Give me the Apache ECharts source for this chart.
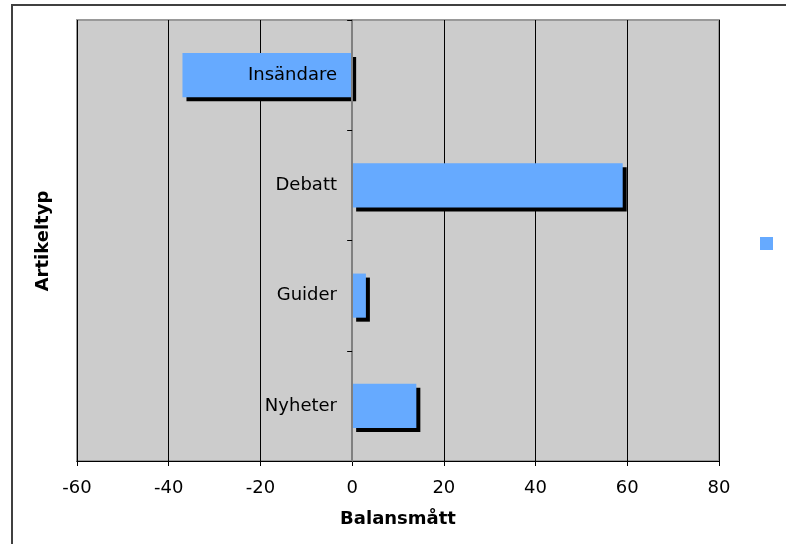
<!DOCTYPE html>
<html>
<head>
<meta charset="utf-8">
<script src="https://cdn.jsdelivr.net/npm/echarts@6/dist/echarts.min.js"></script>
<style>
html,body{margin:0;padding:0;background:#fff;}
#chart{width:786px;height:544px;}
</style>
</head>
<body>
<div id="chart"></div>
<script>
const categories = ['Insändare', 'Debatt', 'Guider', 'Nyheter'];
const values = [-37, 59, 3, 14];
const xTicks = [-60, -40, -20, 0, 20, 40, 60, 80];
const xAxisTitle = 'Balansmått';
const yAxisTitle = 'Artikeltyp';
const seriesName = 'Balansmått';

const FONT = "'DejaVu Sans', Verdana, sans-serif";
const chart = echarts.init(document.getElementById('chart'), null, {renderer: 'canvas'});
chart.setOption({
  animation: false,
  backgroundColor: '#ffffff',
  textStyle: {fontFamily: FONT},
  grid: {
    left: 77, right: 67, top: 20, bottom: 83,
    containLabel: false, outerBoundsMode: 'none',
    show: true, backgroundColor: '#cccccc', borderColor: '#999999', borderWidth: 2
  },
  legend: {
    show: true,
    left: 755, top: 232,
    itemWidth: 13, itemHeight: 13, icon: 'rect',
    formatter: function () { return ''; },
    itemStyle: {shadowColor: 'rgba(0,0,0,0)', shadowOffsetX: 0, shadowOffsetY: 0, shadowBlur: 0},
    data: [seriesName]
  },
  xAxis: {
    type: 'value',
    min: xTicks[0], max: xTicks[xTicks.length - 1], interval: 20,
    name: xAxisTitle, nameLocation: 'middle', nameGap: 49,
    nameTextStyle: {fontSize: 18, fontWeight: 'bold', color: '#000', fontFamily: FONT},
    axisLine: {show: true, lineStyle: {color: '#000', width: 1}},
    axisTick: {show: true, length: 5, lineStyle: {color: '#000'}},
    axisLabel: {fontSize: 18, color: '#000', margin: 18, fontFamily: FONT},
    splitLine: {show: true, lineStyle: {color: '#000', width: 1}}
  },
  yAxis: {
    type: 'category',
    inverse: true,
    data: categories,
    z: 5,
    axisLine: {show: true, onZero: true, lineStyle: {color: '#808080', width: 2}},
    axisTick: {show: true, length: 5, alignWithLabel: false, lineStyle: {color: '#000'}},
    axisLabel: {fontSize: 18, color: '#000', margin: -260, align: 'right', fontFamily: FONT},
    splitLine: {show: false}
  },
  series: [{
    name: seriesName,
    type: 'bar',
    data: values,
    barWidth: '40%',
    itemStyle: {
      color: '#66aaff',
      shadowColor: '#000000',
      shadowBlur: 0,
      shadowOffsetX: 4,
      shadowOffsetY: 4
    }
  }],
  graphic: [
    {
      type: 'rect', silent: true, z: 100,
      shape: {x: 12, y: 5, width: 900, height: 700},
      style: {fill: 'none', stroke: '#404040', lineWidth: 2}
    },
    {
      type: 'text', silent: true, z: 100,
      x: 43, y: 241, rotation: Math.PI / 2,
      style: {
        text: yAxisTitle, fontSize: 18, fontWeight: 'bold', fontFamily: FONT,
        fill: '#000', align: 'center', verticalAlign: 'middle'
      }
    }
  ]
});
</script>
</body>
</html>
